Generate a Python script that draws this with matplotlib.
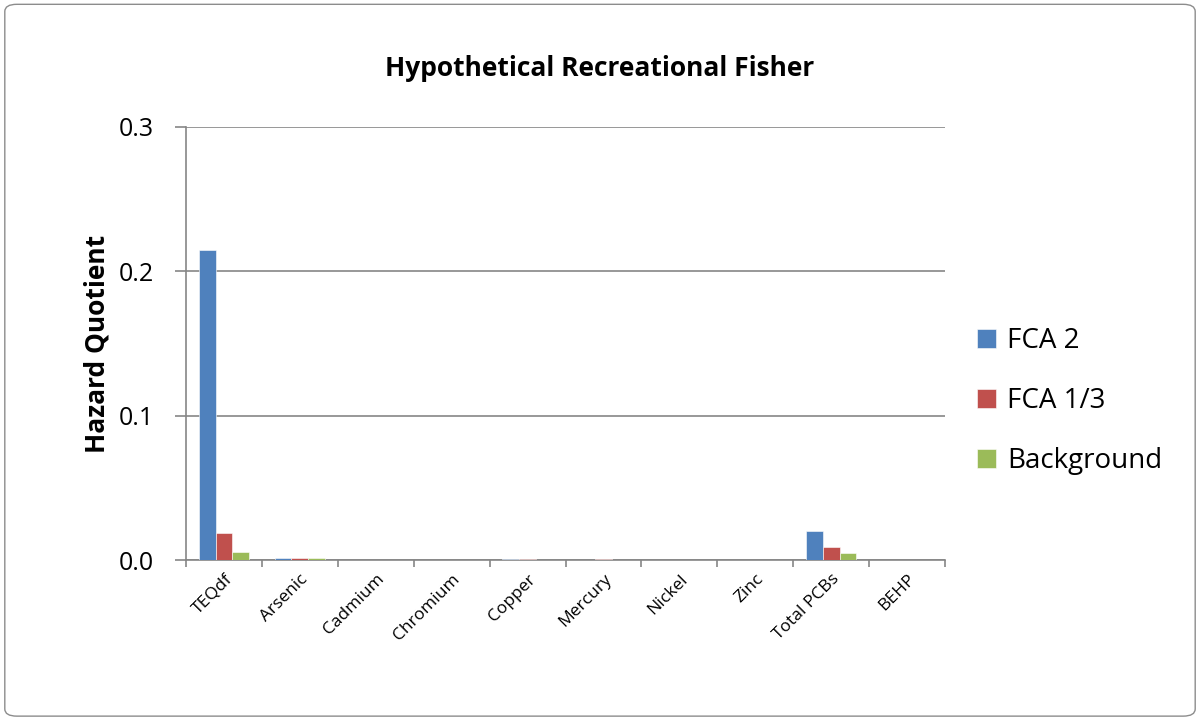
import numpy as np
import matplotlib.pyplot as plt
from matplotlib.patches import FancyBboxPatch

plt.rcParams['font.family'] = ['Open Sans', 'DejaVu Sans']

categories = ['TEQdf', 'Arsenic', 'Cadmium', 'Chromium', 'Copper',
              'Mercury', 'Nickel', 'Zinc', 'Total PCBs', 'BEHP']
fca2 = [0.2145, 0.0017, 0.0001, 0.0001, 0.0005, 0.0004, 0.0004, 0.0001, 0.0200, 0.0]
fca13 = [0.0187, 0.0016, 0.0001, 0.0001, 0.0005, 0.0010, 0.0003, 0.0001, 0.0090, 0.0]
background = [0.0055, 0.0017, 0.0001, 0.0001, 0.0003, 0.0003, 0.0003, 0.0001, 0.0048, 0.0]
series = ['FCA 2', 'FCA 1/3', 'Background']
colors = ['#4F81BD', '#C0504D', '#9BBB59']

fig = plt.figure(figsize=(12, 7.19), dpi=100)
fig.patches.append(FancyBboxPatch((0.004, 0.004), 0.992, 0.99,
                                  boxstyle='round,pad=0,rounding_size=0.01',
                                  transform=fig.transFigure, fill=False,
                                  edgecolor='#8c8c8c', linewidth=1))
ax = fig.add_axes([0.155, 0.221, 0.6325, 0.6025])

x = np.arange(len(categories))
w = 1 / 4.5
for i, (vals, name, c) in enumerate(zip([fca2, fca13, background], series, colors)):
    ax.bar(x + (i - 1) * w, vals, width=w, color=c, label=name,
           edgecolor='white', linewidth=0.4, zorder=3)

ax.set_xlim(-0.5, len(categories) - 0.5)
ax.set_ylim(0, 0.3)
ax.set_yticks([0, 0.1, 0.2, 0.3])
ax.set_yticklabels(['0.0', '0.1', '0.2', '0.3'], fontsize=18)
ax.yaxis.grid(True, color='#868686', linewidth=1.2, zorder=0)
ax.set_xticks(x)
ax.set_xticklabels(categories, rotation=45, ha='right', rotation_mode='anchor', fontsize=12.5)
ax.set_xticks(np.arange(len(categories) + 1) - 0.5, minor=True)
ax.tick_params(axis='x', which='major', length=0, pad=8)
ax.tick_params(axis='x', which='minor', length=5, color='#868686', width=1.2)
ax.tick_params(axis='y', length=8, color='#868686', width=1.2, pad=15)
for s in ['top', 'right']:
    ax.spines[s].set_visible(False)
for s in ['left', 'bottom']:
    ax.spines[s].set_color('#868686')
    ax.spines[s].set_linewidth(1.2)

ax.set_ylabel('Hazard Quotient', fontsize=19, fontweight='bold', labelpad=6)
fig.text(0.5, 1 - 68 / 719, 'Hypothetical Recreational Fisher', fontsize=19,
         fontweight='bold', ha='center', va='center')

ax.legend(loc='center left', bbox_to_anchor=(0.793, 1 - 401 / 719),
          bbox_transform=fig.transFigure, frameon=False, fontsize=20,
          handlelength=0.7, handleheight=0.7, labelspacing=1.15, handletextpad=0.4)

fig.savefig('out.png', dpi=100)
